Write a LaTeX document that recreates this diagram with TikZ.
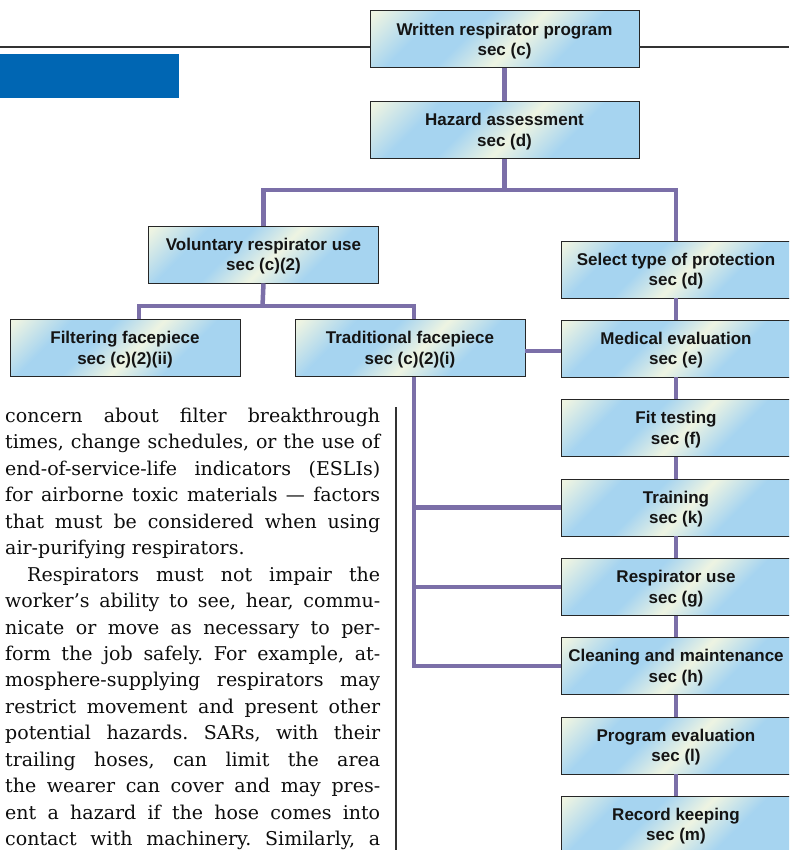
\documentclass[tikz,border=0pt]{standalone}
\usepackage{fontspec}
\usetikzlibrary{calc}
\setmainfont{DejaVu Serif}
\newfontfamily\boxfamily{Liberation Sans}
\newfontfamily\bodyfamily{DejaVu Serif}
\definecolor{bblue}{HTML}{A6D4F0}
\definecolor{bcream}{HTML}{EEF4E2}
\definecolor{purp}{HTML}{7B6FA8}
\definecolor{bandblue}{HTML}{0066B3}
\pgfdeclarehorizontalshading{sheen}{100bp}{color(0bp)=(bcream); color(16bp)=(bcream); color(30bp)=(bblue); color(41bp)=(bblue); color(53bp)=(bcream); color(66bp)=(bblue); color(100bp)=(bblue)}
\newcommand\tightsp{\spaceskip=0.22em plus 2em minus 0.06em\relax}
\newcommand\jline[1]{\hbox to 375pt{\tightsp #1}}
\frenchspacing
\begin{document}
\begin{tikzpicture}[x=1pt,y=-1pt,
  box/.style={draw=black!85, line width=0.9pt, shading=sheen, shading angle=-45,
    minimum width=230pt, minimum height=57pt, inner sep=0pt, align=center,
    text depth=-1pt,
    font=\boxfamily\fontsize{17}{20.5}\selectfont\bfseries, text=black!92},
  widebox/.style={box, minimum width=269pt},
  conn/.style={draw=purp, line width=4.5pt},
  txt/.style={anchor=base west, inner sep=0pt, text=black!95,
    font=\bodyfamily\fontsize{19}{26}\selectfont},
  rulestyle/.style={draw=black!80, line width=1.3pt}]
\useasboundingbox (0,0) rectangle (789,850);
\clip (0,0) rectangle (789,850);

% blue band
\fill[bandblue] (0,54) rectangle (179,98);

% boxes
\node[widebox] (written) at (504.5,39.3) {Written respirator program\\sec (c)};
\node[widebox] (hazard) at (504.5,130) {Hazard assessment\\sec (d)};
\node[box] (vol) at (263.5,254.5) {Voluntary respirator use\\sec (c)(2)};
\node[box] (sel) at (676,269.5) {Select type of protection\\sec (d)};
\node[box] (filt) at (125,348) {Filtering facepiece\\sec (c)(2)(ii)};
\node[box] (trad) at (410,348) {Traditional facepiece\\sec (c)(2)(i)};
\node[box] (med) at (676,348.5) {Medical evaluation\\sec (e)};
\node[box] (fit) at (676,428) {Fit testing\\sec (f)};
\node[box] (train) at (676,507.5) {Training\\sec (k)};
\node[box] (ruse) at (676,587) {Respirator use\\sec (g)};
\node[box] (clean) at (676,666) {Cleaning and maintenance\\sec (h)};
\node[box] (prog) at (676,745.5) {Program evaluation\\sec (l)};
\node[box] (rec) at (676,824.5) {Record keeping\\sec (m)};

% black top line
\coordinate (tl) at (0,47);
\coordinate (tr) at (789,47);
\draw[rulestyle, line width=1.5pt] (tl) -- (tl -| written.west);
\draw[rulestyle, line width=1.5pt] (written.east |- tr) -- (tr);

% connectors
\coordinate (hj) at (504.5,190);
\coordinate (vj) at (262.5,306);
\coordinate (fx) at (139,306);
\coordinate (tx) at (414,306);
\coordinate (cb) at (414,666);
\draw[conn] (written) -- (hazard);
\draw[conn] (hazard.south) -- (hj);
\draw[conn] (vol.north) |- (hj) -| (sel.north);
\draw[conn] (vol.south) -- (vj);
\draw[conn] (filt.north -| fx) -- (fx) -- (tx) -- (trad.north -| tx);
\draw[conn] ($(trad.east)+(0,3)$) -- ($(med.west)+(0,2.5)$);
\draw[conn] (trad.south -| tx) -- (cb) -- (clean.west);
\draw[conn] (train.west -| tx) -- (train.west);
\draw[conn] (ruse.west -| tx) -- (ruse.west);
\draw[conn] (sel) -- (med);
\draw[conn] (med) -- (fit);
\draw[conn] (fit) -- (train);
\draw[conn] (train) -- (ruse);
\draw[conn] (ruse) -- (clean);
\draw[conn] (clean) -- (prog);
\draw[conn] (prog) -- (rec);

% column rule
\coordinate (ra) at (396,407);
\coordinate (rb) at (396,850);
\draw[rulestyle] (ra) -- (rb);

% body text
\node[txt] (l1) at (5,422.3) {\jline{concern about filter breakthrough}};
\node[txt] (l2) at (5,448.8) {\jline{times, change schedules, or the use of}};
\node[txt] (l3) at (5,475.2) {\jline{end-of-service-life indicators (ESLIs)}};
\node[txt] (l4) at (5,501.7) {\jline{for airborne toxic materials — factors}};
\node[txt] (l5) at (5,528.1) {\jline{that must be considered when using}};
\node[txt] (l6) at (5,554.6) {air-purifying respirators.};
\node[txt] (l7) at (27,581.1) {\hbox to 353pt{\tightsp Respirators must not impair the}};
\node[txt] (l8) at (5,607.5) {\jline{worker’s ability to see, hear, commu-}};
\node[txt] (l9) at (5,634.0) {\jline{nicate or move as necessary to per-}};
\node[txt] (l10) at (5,660.4) {\jline{form the job safely. For example, at-}};
\node[txt] (l11) at (5,686.9) {\jline{mosphere-supplying respirators may}};
\node[txt] (l12) at (5,713.4) {\jline{restrict movement and present other}};
\node[txt] (l13) at (5,739.8) {\jline{potential hazards. SARs, with their}};
\node[txt] (l14) at (5,766.3) {\jline{trailing hoses, can limit the area}};
\node[txt] (l15) at (5,792.7) {\jline{the wearer can cover and may pres-}};
\node[txt] (l16) at (5,819.2) {\jline{ent a hazard if the hose comes into}};
\node[txt] (l17) at (5,845.6) {\jline{contact with machinery. Similarly, a}};
\end{tikzpicture}
\end{document}
